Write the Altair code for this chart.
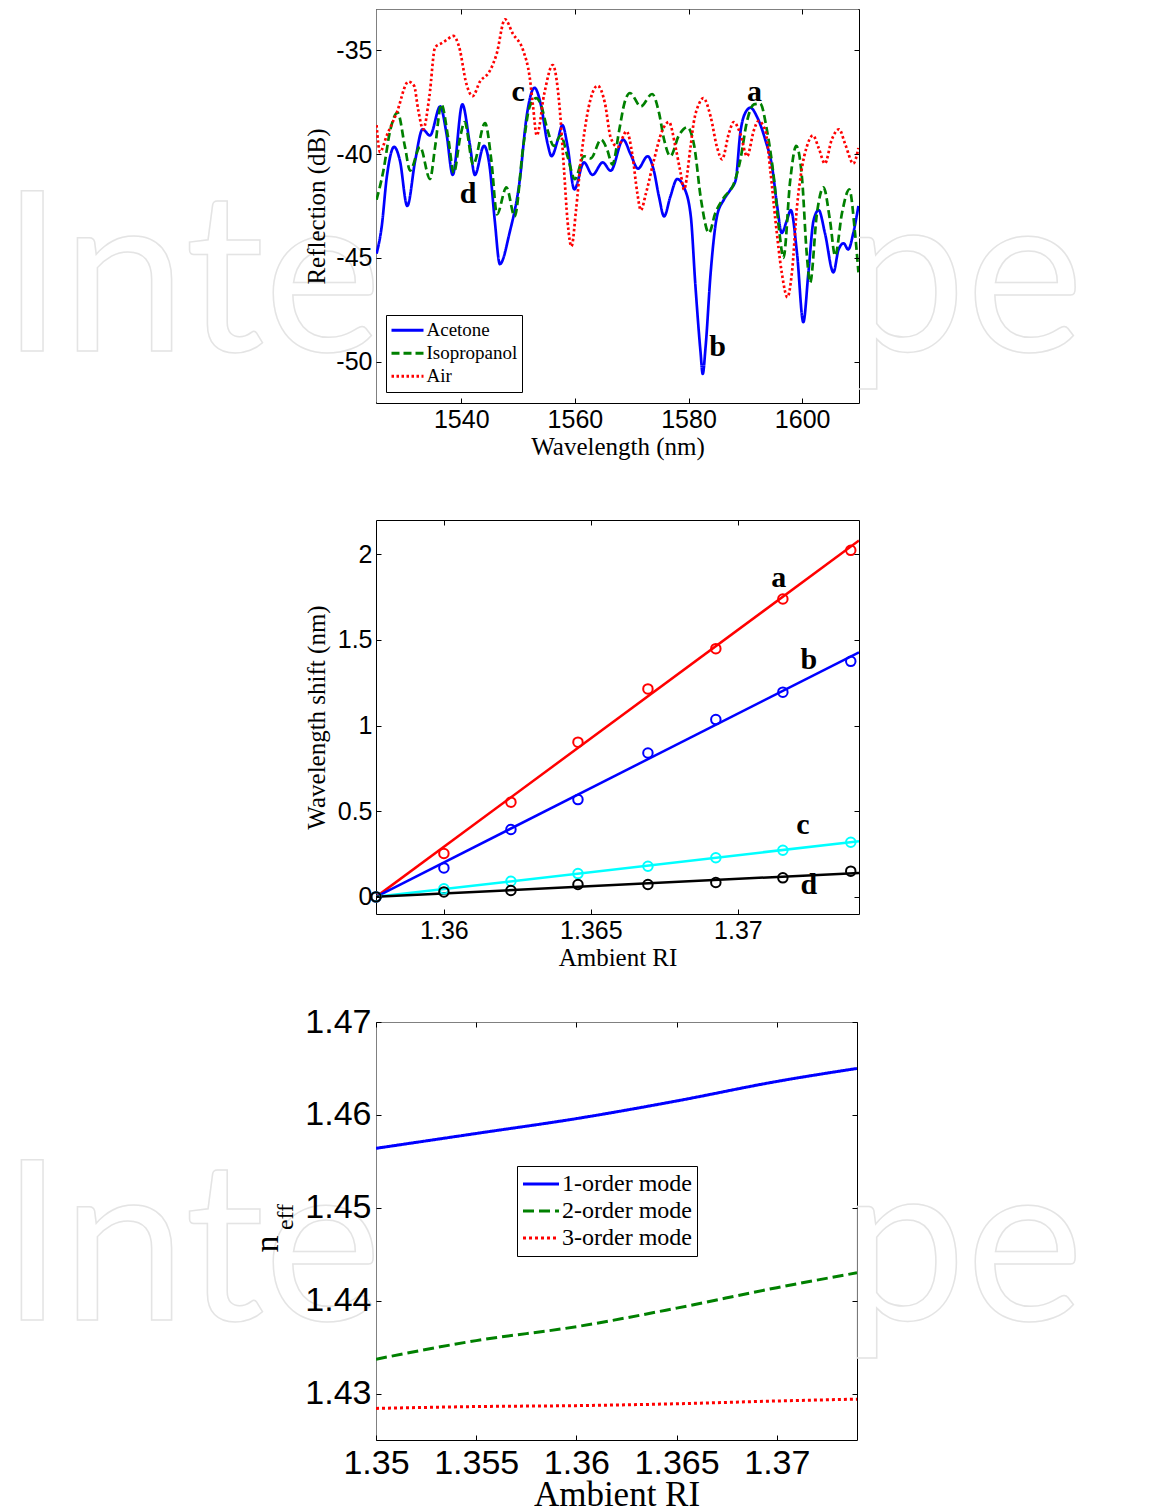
import altair as alt
import pandas as pd

# ---------------- Panel 1: reflection spectra ----------------
acetone_wl = [1525.1, 1526.0, 1526.9, 1528.2, 1529.2, 1530.5, 1531.9, 1533.2, 1534.5, 1536.3,
              1537.4, 1538.5, 1540.2, 1541.5, 1542.4, 1544.0, 1545.0, 1545.9, 1546.8, 1548.5,
              1550.3, 1551.5, 1552.9, 1554.0, 1555.2, 1555.9, 1557.0, 1557.8, 1558.7, 1559.9,
              1561.6, 1563.1, 1564.9, 1566.3, 1568.5, 1569.8, 1571.1, 1572.8, 1573.9, 1574.8,
              1575.7, 1576.8, 1578.0, 1579.2, 1580.4, 1581.2, 1582.1, 1582.5, 1583.0, 1583.9,
              1585.0, 1586.2, 1587.4, 1588.3, 1589.1, 1590.0, 1590.9, 1592.05, 1593.5, 1594.7,
              1595.6, 1596.4, 1597.3, 1598.0, 1599.1, 1600.2, 1601.1, 1602.0, 1602.9, 1604.0,
              1605.5, 1606.4, 1607.3, 1608.1, 1609.0, 1609.9]
acetone_db = [-44.8, -43.5, -41.1, -39.65, -40.3, -42.5, -40.3, -38.8, -39.1, -37.7,
              -39.0, -41.0, -37.6, -39.5, -41.0, -39.6, -40.6, -43.2, -45.3, -43.8,
              -41.25, -38.2, -36.8, -37.6, -39.5, -40.1, -39.3, -38.6, -39.6, -41.7,
              -40.4, -41.0, -40.4, -40.8, -39.3, -40.0, -40.7, -40.1, -40.8, -42.05,
              -43.0, -42.05, -41.2, -41.6, -43.0, -46.3, -49.5, -50.6, -49.3, -45.7,
              -43.0, -42.2, -41.7, -41.25, -39.0, -38.0, -37.76, -38.2, -39.3, -40.6,
              -42.5, -43.8, -43.2, -42.7, -44.8, -48.1, -45.7, -43.2, -42.7, -43.8,
              -45.7, -44.6, -44.3, -44.6, -43.8, -42.5]

iso_wl = [1525.1, 1526.3, 1527.5, 1528.8, 1530.1, 1531.0, 1532.75, 1534.5, 1535.4, 1536.5,
          1537.7, 1538.7, 1539.8, 1540.6, 1542.1, 1544.2, 1545.3, 1546.3, 1547.95, 1549.4,
          1550.9, 1552.05, 1553.2, 1554.0, 1555.2, 1556.3, 1557.5, 1558.7, 1560.0, 1561.6,
          1562.8, 1564.6, 1565.7, 1566.6, 1567.8, 1568.7, 1569.7, 1571.6, 1573.6, 1574.8,
          1575.7, 1576.8, 1578.3, 1579.8, 1581.0, 1582.2, 1583.6, 1584.7, 1586.2, 1588.0,
          1589.1, 1590.3, 1591.5, 1592.6, 1593.8, 1595.0, 1596.0, 1596.7, 1597.9, 1598.95,
          1600.0, 1600.8, 1601.4, 1602.6, 1603.75, 1604.9, 1605.8, 1607.0, 1608.3, 1609.3,
          1609.9]
iso_db = [-42.2, -40.8, -38.85, -38.0, -39.65, -40.8, -39.65, -41.2, -39.65, -37.6,
          -39.2, -40.9, -39.2, -38.45, -40.5, -38.5, -40.3, -42.9, -41.6, -43.0,
          -39.65, -37.7, -37.3, -37.6, -38.85, -39.6, -39.1, -40.1, -41.2, -40.1,
          -40.2, -39.3, -39.8, -40.5, -38.85, -37.56, -37.05, -37.7, -37.1, -38.0,
          -39.3, -40.1, -39.1, -38.7, -39.6, -42.2, -43.8, -42.85, -42.1, -41.4,
          -40.3, -38.4, -37.6, -37.56, -38.85, -41.1, -43.8, -45.0, -41.25, -39.6,
          -41.25, -44.8, -46.2, -42.85, -41.6, -43.2, -44.9, -42.85, -41.7, -43.8,
          -45.7]

air_wl = [1525.1, 1525.7, 1526.9, 1528.65, 1530.7, 1531.7, 1532.45, 1533.3, 1534.4, 1535.4,
          1536.55, 1537.4, 1538.6, 1539.65, 1540.9, 1542.0, 1543.3, 1545.0, 1546.2, 1547.7,
          1549.1, 1550.9, 1552.05, 1552.6, 1553.3, 1554.6, 1556.1, 1557.25, 1558.1, 1558.7,
          1559.4, 1560.2, 1561.05, 1562.2, 1564.0, 1565.3, 1566.3, 1567.5, 1569.1, 1570.1,
          1571.0, 1571.6, 1572.5, 1573.9, 1575.4, 1576.55, 1577.7, 1578.6, 1579.2, 1580.35,
          1580.9, 1581.8, 1582.6, 1583.9, 1585.0, 1585.9, 1587.1, 1587.95, 1589.1, 1590.3,
          1591.5, 1592.3, 1593.5, 1594.4, 1595.3, 1596.4, 1597.4, 1598.2, 1599.1, 1600.0,
          1600.8, 1601.9, 1602.9, 1604.0, 1605.2, 1606.5, 1607.55, 1609.0, 1609.9]
air_db = [-38.6, -39.9, -39.1, -38.0, -36.5, -36.7, -37.9, -38.8, -37.2, -34.85,
          -34.65, -34.5, -34.3, -34.85, -36.6, -37.2, -36.5, -36.0, -35.2, -33.5,
          -34.2, -35.0, -36.3, -37.6, -39.1, -37.1, -35.7, -37.56, -40.8, -43.2,
          -44.45, -42.7, -40.3, -38.05, -36.7, -37.56, -39.2, -39.65, -38.9, -40.0,
          -41.9, -42.7, -41.9, -40.3, -38.85, -38.45, -39.65, -40.9, -41.7, -39.65,
          -38.5, -37.6, -37.3, -38.2, -39.65, -40.25, -39.0, -38.45, -39.0, -40.1,
          -38.85, -38.4, -38.85, -40.8, -43.2, -45.7, -46.9, -45.7, -42.5, -40.6,
          -39.65, -39.1, -39.7, -40.45, -39.3, -38.8, -39.5, -40.45, -39.7]

spectra_series = ["Acetone", "Isopropanol", "Air"]
spectra_colors = ["#0000FF", "#008000", "#FF0000"]
spectra_dash = [[1, 0], [8, 4], [2.5, 2.5]]

peak_text = ["a", "b", "c", "d"]
peak_wl = [1591.6, 1585.1, 1550.0, 1541.2]
peak_db = [-37.0, -49.3, -37.0, -41.9]

# ---------------- Panel 2: wavelength shift vs RI ----------------
ri_points = [1.35769, 1.36, 1.36228, 1.36456, 1.36694, 1.36925, 1.37153, 1.37384]
shift_a = [0, 0.253, 0.553, 0.903, 1.214, 1.449, 1.739, 2.023]
shift_b = [0, 0.169, 0.393, 0.568, 0.840, 1.035, 1.195, 1.375]
shift_c = [0, 0.047, 0.091, 0.136, 0.179, 0.228, 0.272, 0.319]
shift_d = [0, 0.029, 0.037, 0.072, 0.072, 0.084, 0.111, 0.150]
fit_ri = [1.35769, 1.37412]
fit_a = [0, 2.08]
fit_b = [0, 1.428]
fit_c = [0, 0.325]
fit_d = [0, 0.14]
shift_series = ["a", "b", "c", "d"]
shift_colors = ["#FF0000", "#0000FF", "#00FFFF", "#000000"]
shift_label_ri = [1.37139, 1.37241, 1.37221, 1.37241]
shift_label_val = [1.86, 1.38, 0.42, 0.07]

# ---------------- Panel 3: effective index vs RI ----------------
ri_modes = [1.35, 1.355, 1.36, 1.365, 1.37, 1.374]
mode1 = [1.4564, 1.4580, 1.4596, 1.4615, 1.4636, 1.4650]
mode2 = [1.4337, 1.4357, 1.4372, 1.4392, 1.4414, 1.4430]
mode3 = [1.4284, 1.4286, 1.4287, 1.4289, 1.4292, 1.4294]
mode_series = ["1-order mode", "2-order mode", "3-order mode"]
mode_colors = ["#0000FF", "#008000", "#FF0000"]
mode_dash = [[1, 0], [11, 5], [3, 3]]

# faint publisher watermark (middle part is hidden behind the plot areas)
watermark_parts = ["Inte", "pe"]

# ---------------- data tables ----------------
spec_df = pd.concat([
    pd.DataFrame({"wl": acetone_wl, "db": acetone_db, "series": "Acetone", "o": 0}),
    pd.DataFrame({"wl": iso_wl, "db": iso_db, "series": "Isopropanol", "o": 1}),
    pd.DataFrame({"wl": air_wl, "db": air_db, "series": "Air", "o": 2}),
], ignore_index=True)
peak_df = pd.DataFrame({"wl": peak_wl, "db": peak_db, "t": peak_text})

pts_df = pd.concat([
    pd.DataFrame({"ri": ri_points, "shift": v, "s": s})
    for v, s in zip([shift_a, shift_b, shift_c, shift_d], shift_series)
], ignore_index=True)
fit_df = pd.concat([
    pd.DataFrame({"ri": fit_ri, "shift": v, "s": s})
    for v, s in zip([fit_a, fit_b, fit_c, fit_d], shift_series)
], ignore_index=True)
lab2_df = pd.DataFrame({"ri": shift_label_ri, "shift": shift_label_val, "t": shift_series})

mode_df = pd.concat([
    pd.DataFrame({"ri": ri_modes, "n": v, "mode": s})
    for v, s in zip([mode1, mode2, mode3], mode_series)
], ignore_index=True)

one = pd.DataFrame({"k": [0]})


def main_axis(orient, values, title, lsize, tsize, lpad, tpad):
    return alt.Axis(orient=orient, values=values, title=title, offset=-5, tickSize=5,
                    labelFontSize=lsize, titleFontSize=tsize, labelPadding=lpad,
                    titlePadding=tpad, labelFlush=False, labelOverlap=False,
                    labelExpr="'' + datum.value", zindex=1)


def tick_axis(orient, values):
    return alt.Axis(orient=orient, values=values, labels=False, title=None,
                    offset=-5, tickSize=5, zindex=1)


def helper(xpx, y0, y1):
    return alt.Chart(one).mark_rule(strokeOpacity=0).encode(
        x=alt.value(xpx), y=alt.value(y0), y2=alt.value(y1))


def watermark(x_left, x_right, baseline):
    marks = []
    for txt, xv in zip(watermark_parts, [x_left, x_right]):
        marks.append(alt.Chart(one).mark_text(
            font="Lato", fontSize=223, align="left", baseline="alphabetic",
            fillOpacity=0, stroke="#e4e4e4", strokeWidth=1.5).encode(
            x=alt.value(xv), y=alt.value(baseline), text=alt.value(txt)))
    return marks


def plot_cover(w, h):
    return alt.Chart(one).mark_rect(color="white").encode(
        x=alt.value(0.5), x2=alt.value(w - 0.5), y=alt.value(0.5), y2=alt.value(h - 0.5))


# ---------------- Panel 1 ----------------
W1, H1 = 483, 394
x1_scale = alt.Scale(domain=[1525, 1610], nice=False, zero=False)
y1_scale = alt.Scale(domain=[-52, -33], nice=False, zero=False)
x1_vals = [1540, 1560, 1580, 1600]
y1_vals = [-50, -45, -40, -35]

spec_lines = alt.Chart(spec_df).mark_line(strokeWidth=2.7, interpolate="monotone", clip=True).encode(
    x=alt.X("wl:Q", scale=x1_scale,
            axis=main_axis("bottom", x1_vals, "Wavelength (nm)", 25, 25, 4, 2)),
    y=alt.Y("db:Q", scale=y1_scale,
            axis=main_axis("left", y1_vals, "Reflection (dB)", 25, 25, 4, 6)),
    color=alt.Color("series:N", scale=alt.Scale(domain=spectra_series, range=spectra_colors),
                    legend=alt.Legend(orient="none", legendX=10, legendY=306, title=None,
                                      labelFont="Liberation Serif", labelFontSize=19,
                                      labelColor="black", symbolType="stroke", symbolSize=1024,
                                      symbolStrokeWidth=3, clipHeight=22.5, padding=4,
                                      rowPadding=0, labelOffset=1.5, strokeColor="black",
                                      fillColor="white", cornerRadius=0, labelLimit=400)),
    strokeDash=alt.StrokeDash("series:N", scale=alt.Scale(domain=spectra_series, range=spectra_dash)),
    order="o:Q",
    detail="series:N",
)
peak_labels = alt.Chart(peak_df).mark_text(font="Liberation Serif", fontWeight="bold",
                                           fontSize=30, color="black").encode(
    x=alt.X("wl:Q", scale=x1_scale, axis=tick_axis("top", x1_vals)),
    y=alt.Y("db:Q", scale=y1_scale, axis=tick_axis("right", y1_vals)),
    text="t:N",
)
panel1 = alt.layer(*watermark(-375, 465, 342), plot_cover(W1, H1), spec_lines, peak_labels,
                   helper(-375, 0, 499)).resolve_axis(
    x="independent", y="independent").properties(width=W1, height=H1)

# ---------------- Panel 2 ----------------
W2, H2 = 483, 394
x2_scale = alt.Scale(domain=[1.35769, 1.37412], nice=False, zero=False)
y2_scale = alt.Scale(domain=[-0.1, 2.2], nice=False, zero=False)
x2_vals = [1.36, 1.365, 1.37]
y2_vals = [0, 0.5, 1, 1.5, 2]
c2 = alt.Scale(domain=shift_series, range=shift_colors)

pts = alt.Chart(pts_df).mark_point(shape="circle", filled=False, size=90, strokeWidth=2,
                                   opacity=1).encode(
    x=alt.X("ri:Q", scale=x2_scale,
            axis=main_axis("bottom", x2_vals, "Ambient RI", 25, 25, 4, 2)),
    y=alt.Y("shift:Q", scale=y2_scale,
            axis=main_axis("left", y2_vals, "Wavelength shift (nm)", 25, 25, 4, 8)),
    color=alt.Color("s:N", scale=c2, legend=None),
)
fits = alt.Chart(fit_df).mark_line(strokeWidth=2.5, clip=True).encode(
    x=alt.X("ri:Q", scale=x2_scale, axis=None),
    y=alt.Y("shift:Q", scale=y2_scale, axis=None),
    color=alt.Color("s:N", scale=c2, legend=None),
)
lab2 = alt.Chart(lab2_df).mark_text(font="Liberation Serif", fontWeight="bold",
                                    fontSize=30, color="black").encode(
    x=alt.X("ri:Q", scale=x2_scale, axis=tick_axis("top", x2_vals)),
    y=alt.Y("shift:Q", scale=y2_scale, axis=tick_axis("right", y2_vals)),
    text="t:N",
)
panel2 = alt.layer(fits, pts, lab2, helper(-375, -10, 478)).resolve_axis(
    x="independent", y="independent").properties(width=W2, height=H2)

# ---------------- Panel 3 ----------------
W3, H3 = 481, 418
x3_scale = alt.Scale(domain=[1.35, 1.374], nice=False, zero=False)
y3_scale = alt.Scale(domain=[1.425, 1.47], nice=False, zero=False)
x3_vals = [1.35, 1.355, 1.36, 1.365, 1.37]
y3_vals = [1.43, 1.44, 1.45, 1.46, 1.47]

mode_lines = alt.Chart(mode_df).mark_line(strokeWidth=3, interpolate="monotone", clip=True).encode(
    x=alt.X("ri:Q", scale=x3_scale,
            axis=main_axis("bottom", x3_vals, "Ambient RI", 34, 35, 6, -3)),
    y=alt.Y("n:Q", scale=y3_scale,
            axis=main_axis("left", y3_vals, None, 34, 34, 5, 4)),
    color=alt.Color("mode:N", scale=alt.Scale(domain=mode_series, range=mode_colors),
                    legend=alt.Legend(orient="none", legendX=141, legendY=144, title=None,
                                      labelFont="Liberation Serif", labelFontSize=24,
                                      labelColor="black", symbolType="stroke", symbolSize=1296,
                                      symbolStrokeWidth=3, clipHeight=27, padding=4.5,
                                      rowPadding=0, labelOffset=1.5, strokeColor="black",
                                      fillColor="white", cornerRadius=0, labelLimit=400)),
    strokeDash=alt.StrokeDash("mode:N", scale=alt.Scale(domain=mode_series, range=mode_dash)),
)
ghost3 = alt.Chart(mode_df).mark_point(opacity=0).encode(
    x=alt.X("ri:Q", scale=x3_scale, axis=tick_axis("top", x3_vals)),
    y=alt.Y("n:Q", scale=y3_scale, axis=tick_axis("right", y3_vals)),
)
n_txt = alt.Chart(one).mark_text(font="Liberation Serif", fontSize=34, angle=270,
                                 color="black", baseline="middle", align="center").encode(
    x=alt.value(-108), y=alt.value(222), text=alt.value("n"))
eff_txt = alt.Chart(one).mark_text(font="Liberation Serif", fontSize=24, angle=270,
                                   color="black", baseline="middle", align="center").encode(
    x=alt.value(-90), y=alt.value(195), text=alt.value("eff"))
panel3 = alt.layer(*watermark(-375, 465, 298), plot_cover(W3, H3), mode_lines, ghost3,
                   n_txt, eff_txt, helper(-375, -22, 470)).resolve_axis(
    x="independent", y="independent").properties(width=W3, height=H3)

chart = alt.vconcat(panel1, panel2, panel3, spacing=0).resolve_scale(
    color="independent", strokeDash="independent"
).properties(
    padding={"left": 0, "top": 8, "right": 0, "bottom": 0},
    background="white",
).configure_view(
    stroke="black", strokeWidth=1
).configure_axis(
    grid=False, domain=False, tickColor="black", tickWidth=1,
    labelColor="black", titleColor="black",
    labelFont="Liberation Sans", titleFont="Liberation Serif", titleFontWeight="normal",
)

chart.save("out.html", embed_options={"renderer": "svg", "actions": False})
